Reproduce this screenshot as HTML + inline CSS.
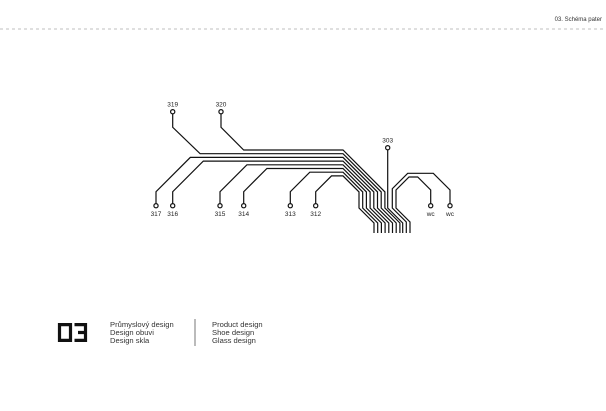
<!DOCTYPE html>
<html><head><meta charset="utf-8"><style>
html,body{margin:0;padding:0;background:#fff;}
body{width:606px;height:406px;overflow:hidden;}
</style></head><body>
<svg width="606" height="406" viewBox="0 0 606 406" xmlns="http://www.w3.org/2000/svg" font-family="Liberation Sans, sans-serif">
<text x="602" y="21" font-size="6" text-anchor="end" fill="#333">03. Schéma pater</text>
<line x1="0" y1="29" x2="606" y2="29" stroke="#aaa" stroke-width="0.8" stroke-dasharray="3,3"/>
<g fill="none" stroke="#111" stroke-width="1.2" stroke-linejoin="miter">
<polyline points="221,111.7 221,127.3 243.7,150 343,150 384.9,191.9 384.9,208 399.9,223 399.9,233"/>
<polyline points="172.7,111.7 172.7,127.3 200.1,153.7 343,153.7 381.2,191.9 381.2,208 396.2,223 396.2,233"/>
<polyline points="156,205.7 156,191.7 190.3,157.4 343,157.4 377.5,191.9 377.5,208 392.5,223 392.5,233"/>
<polyline points="172.7,205.7 172.7,191.7 203.3,161.1 343,161.1 373.8,191.9 373.8,208 388.8,223 388.8,233"/>
<polyline points="220,205.7 220,191.7 246.9,164.8 343,164.8 370.1,191.9 370.1,208 385.1,223 385.1,233"/>
<polyline points="243.7,205.7 243.7,191.7 266.9,168.5 343,168.5 366.4,191.9 366.4,208 381.4,223 381.4,233"/>
<polyline points="290.3,205.7 290.3,191.7 309.8,172.2 343,172.2 362.7,191.9 362.7,208 377.7,223 377.7,233"/>
<polyline points="315.7,205.7 315.7,191.7 331.5,175.9 343,175.9 359,191.9 359,208 374,223 374,233"/>
<polyline points="387.7,147.7 387.7,208 402.7,223 402.7,233"/>
<polyline points="430.7,205.7 430.7,190 417.7,177 409,177 396,190 396,208 410,222 410,233"/>
<polyline points="450,205.7 450,190 433.3,173.3 407.7,173.3 392.3,188.7 392.3,208 406.3,222 406.3,233"/>
</g>
<g fill="#fff" stroke="#111" stroke-width="1.2">
<circle cx="172.7" cy="111.7" r="2.1"/><circle cx="221" cy="111.7" r="2.1"/><circle cx="387.7" cy="147.7" r="2.1"/>
<circle cx="156" cy="205.7" r="2.1"/><circle cx="172.7" cy="205.7" r="2.1"/><circle cx="220" cy="205.7" r="2.1"/>
<circle cx="243.7" cy="205.7" r="2.1"/><circle cx="290.3" cy="205.7" r="2.1"/><circle cx="315.7" cy="205.7" r="2.1"/>
<circle cx="430.7" cy="205.7" r="2.1"/><circle cx="450" cy="205.7" r="2.1"/>
</g>
<g font-size="6.5" fill="#222" text-anchor="middle">
<text x="172.7" y="106.5">319</text><text x="221" y="106.5">320</text><text x="387.7" y="142.5">303</text>
<text x="156" y="216">317</text><text x="172.7" y="216">316</text><text x="220" y="216">315</text>
<text x="243.7" y="216">314</text><text x="290.3" y="216">313</text><text x="315.7" y="216">312</text>
<text x="430.7" y="216">wc</text><text x="450" y="216">wc</text>
</g>
<g fill="none" stroke="#111" stroke-width="3.2">
<path d="M59.5,324.6 H70.5 V340.4 H59.5 Z"/>
<path d="M74.5,324.6 H85.5 V340.4 H74.5 M78,332.5 H85.5"/>
</g>
<g font-size="7.6" fill="#333">
<text x="110" y="327">Průmyslový design</text>
<text x="110" y="335">Design obuvi</text>
<text x="110" y="343">Design skla</text>
<text x="212" y="327">Product design</text>
<text x="212" y="335">Shoe design</text>
<text x="212" y="343">Glass design</text>
</g>
<line x1="195" y1="319" x2="195" y2="346" stroke="#555" stroke-width="0.8"/>
</svg>
</body></html>
